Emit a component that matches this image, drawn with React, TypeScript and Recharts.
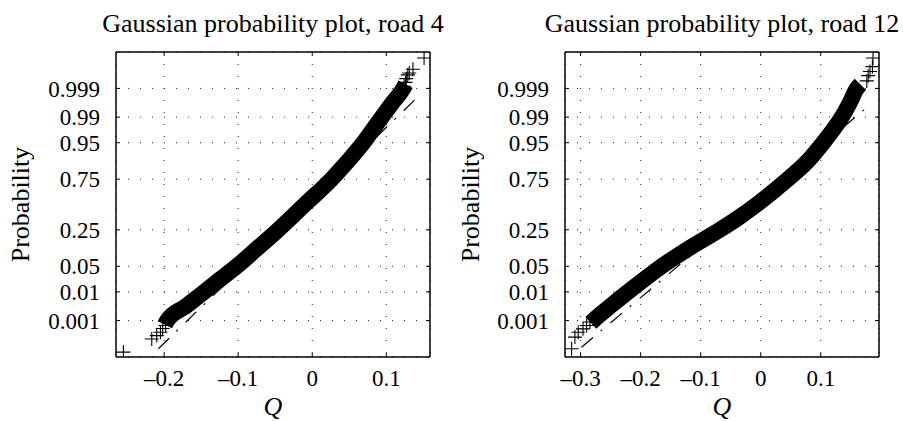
import { CartesianGrid, ComposedChart, Line, Scatter, XAxis, YAxis } from "recharts";

// probability axis: values are stored as normal quantiles (z), labelled as probabilities
const probLabels = ["0.001", "0.01", "0.05", "0.25", "0.75", "0.95", "0.99", "0.999"];
const probZ = [-3.09, -2.326, -1.645, -0.674, 0.674, 1.645, 2.326, 3.09];

const road4Ticks = [-0.2, -0.1, 0, 0.1];
const road12Ticks = [-0.3, -0.2, -0.1, 0, 0.1];

// dense band of samples, read along its centre
const road4Band = [
  { q: -0.199, z: -3.2 },
  { q: -0.196, z: -3.09 },
  { q: -0.17, z: -2.7 },
  { q: -0.146, z: -2.33 },
  { q: -0.125, z: -2.0 },
  { q: -0.102, z: -1.645 },
  { q: -0.075, z: -1.18 },
  { q: -0.046, z: -0.674 },
  { q: -0.01, z: 0 },
  { q: 0.026, z: 0.674 },
  { q: 0.048, z: 1.15 },
  { q: 0.069, z: 1.645 },
  { q: 0.082, z: 2.0 },
  { q: 0.094, z: 2.326 },
  { q: 0.108, z: 2.7 },
  { q: 0.123, z: 3.09 },
  { q: 0.126, z: 3.2 },
];

// isolated samples in the tails
const road4Tails = [
  { q: -0.255, z: -3.93 },
  { q: -0.2167, z: -3.58 },
  { q: -0.21, z: -3.49 },
  { q: -0.205, z: -3.4 },
  { q: -0.202, z: -3.3 },
  { q: -0.198, z: -3.22 },
  { q: 0.124, z: 3.15 },
  { q: 0.126, z: 3.25 },
  { q: 0.127, z: 3.35 },
  { q: 0.129, z: 3.45 },
  { q: 0.131, z: 3.5 },
  { q: 0.136, z: 3.6 },
  { q: 0.151, z: 3.9 },
];

const road4Fit = [
  { q: -0.2078, z: -3.84 },
  { q: 0.1386, z: 2.79 },
];

const road12Band = [
  { q: -0.283, z: -3.15 },
  { q: -0.279, z: -3.09 },
  { q: -0.25, z: -2.7 },
  { q: -0.221, z: -2.326 },
  { q: -0.193, z: -1.98 },
  { q: -0.165, z: -1.645 },
  { q: -0.118, z: -1.15 },
  { q: -0.068, z: -0.674 },
  { q: -0.035, z: -0.33 },
  { q: -0.0067, z: 0 },
  { q: 0.045, z: 0.674 },
  { q: 0.078, z: 1.15 },
  { q: 0.104, z: 1.645 },
  { q: 0.121, z: 2.0 },
  { q: 0.135, z: 2.326 },
  { q: 0.148, z: 2.7 },
  { q: 0.16, z: 3.09 },
  { q: 0.166, z: 3.2 },
];

const road12Tails = [
  { q: -0.315, z: -3.84 },
  { q: -0.3095, z: -3.53 },
  { q: -0.304, z: -3.4 },
  { q: -0.296, z: -3.31 },
  { q: -0.29, z: -3.22 },
  { q: -0.2845, z: -3.13 },
  { q: 0.1767, z: 3.29 },
  { q: 0.179, z: 3.43 },
  { q: 0.182, z: 3.54 },
  { q: 0.186, z: 3.67 },
  { q: 0.187, z: 3.9 },
];

const road12Fit = [
  { q: -0.2985, z: -3.8 },
  { q: 0.175, z: 2.56 },
];

const FONT = "'Liberation Serif', 'Times New Roman', serif";

const fmtQ = (v: number) => (v < 0 ? "\u2013" + Math.abs(v) : String(v));
const fmtP = (v: number) => probLabels[probZ.indexOf(v)] ?? "";

function Plus(props: { cx?: number; cy?: number }) {
  const { cx, cy } = props;
  if (cx == null || cy == null) return null;
  return (
    <path
      d={`M${cx - 7},${cy}h14M${cx},${cy - 7}v14`}
      stroke="#000"
      strokeWidth={1.1}
      fill="none"
    />
  );
}

interface PanelProps {
  title: string;
  band: { q: number; z: number }[];
  tails: { q: number; z: number }[];
  fit: { q: number; z: number }[];
  xDomain: [number, number];
  xTicks: number[];
  width: number;
  yAxisWidth: number;
  rightMargin: number;
}

function Panel({ title, band, tails, fit, xDomain, xTicks, width, yAxisWidth, rightMargin }: PanelProps) {
  const axisLine = { stroke: "#000", strokeWidth: 1.5 };
  const tickLine = { stroke: "#000", strokeWidth: 1 };
  return (
    <ComposedChart
      width={width}
      height={421}
      margin={{ top: 51, right: rightMargin - 1, bottom: 4, left: 0 }}
      style={{ fontFamily: FONT }}
    >
      <CartesianGrid stroke="#222" strokeDasharray="1 11" strokeWidth={1} />
      <XAxis
        type="number"
        dataKey="q"
        domain={xDomain}
        allowDataOverflow
        ticks={xTicks}
        interval={0}
        tickFormatter={fmtQ}
        height={60}
        tickSize={-4}
        tickMargin={17}
        axisLine={axisLine}
        tickLine={tickLine}
        tick={{ fill: "#000", fontSize: 23, fontFamily: FONT }}
        label={{
          content: (p: any) => (
            <text
              x={p.viewBox.x + p.viewBox.width / 2}
              y={p.viewBox.y + 58}
              textAnchor="middle"
              fontSize={26}
              fontStyle="italic"
              fontFamily={FONT}
              fill="#000"
            >
              Q
            </text>
          ),
        }}
      />
      <XAxis
        xAxisId="top"
        orientation="top"
        type="number"
        dataKey="q"
        domain={xDomain}
        allowDataOverflow
        ticks={xTicks}
        interval={0}
        height={1}
        tickSize={-4}
        axisLine={axisLine}
        tickLine={tickLine}
        tick={() => <g />}
        label={{
          content: (p: any) => (
            <text
              x={p.viewBox.x + p.viewBox.width / 2}
              y={p.viewBox.y - 19}
              textAnchor="middle"
              fontSize={26}
              fontFamily={FONT}
              fill="#000"
            >
              {title}
            </text>
          ),
        }}
      />
      <YAxis
        type="number"
        dataKey="z"
        domain={[-4.06, 4.06]}
        allowDataOverflow
        ticks={probZ}
        interval={0}
        tickFormatter={fmtP}
        width={yAxisWidth}
        tickSize={-4}
        tickMargin={20}
        axisLine={axisLine}
        tickLine={tickLine}
        tick={{ fill: "#000", fontSize: 23, fontFamily: FONT }}
        label={{
          content: (p: any) => (
            <text
              transform={`translate(${p.viewBox.x + 29},${p.viewBox.y + p.viewBox.height / 2}) rotate(-90)`}
              textAnchor="middle"
              fontSize={26}
              fontFamily={FONT}
              fill="#000"
            >
              Probability
            </text>
          ),
        }}
      />
      <YAxis
        yAxisId="r"
        orientation="right"
        type="number"
        dataKey="z"
        domain={[-4.06, 4.06]}
        allowDataOverflow
        ticks={probZ}
        interval={0}
        width={1}
        tickSize={-4}
        axisLine={axisLine}
        tickLine={tickLine}
        tick={() => <g />}
      />
      <Line
        data={fit}
        dataKey="z"
        type="linear"
        stroke="#000"
        strokeWidth={1.2}
        strokeDasharray="15 10 2 11"
        dot={false}
        activeDot={false}
        isAnimationActive={false}
      />
      <Line
        data={band}
        dataKey="z"
        type="monotone"
        stroke="#000"
        strokeWidth={16}
        dot={false}
        activeDot={false}
        isAnimationActive={false}
      />
      <Scatter data={tails} dataKey="z" shape={(p: any) => <Plus cx={p.cx} cy={p.cy} />} isAnimationActive={false} />
      {/* hidden copy so the mirrored top/right axes (box frame) are drawn */}
      <Line
        data={fit}
        dataKey="z"
        xAxisId="top"
        yAxisId="r"
        stroke="none"
        dot={false}
        activeDot={false}
        isAnimationActive={false}
      />
    </ComposedChart>
  );
}

export default function App() {
  return (
    <div style={{ position: "absolute", left: 0, top: 0, width: 903, height: 421, background: "#fff" }}>
      <div style={{ position: "absolute", left: 0, top: 0 }}>
        <Panel
          title="Gaussian probability plot, road 4"
          band={road4Band}
          tails={road4Tails}
          fit={road4Fit}
          xDomain={[-0.265, 0.159]}
          xTicks={road4Ticks}
          width={450}
          yAxisWidth={116}
          rightMargin={20}
        />
      </div>
      <div style={{ position: "absolute", left: 450, top: 0 }}>
        <Panel
          title="Gaussian probability plot, road 12"
          band={road12Band}
          tails={road12Tails}
          fit={road12Fit}
          xDomain={[-0.326, 0.197]}
          xTicks={road12Ticks}
          width={453}
          yAxisWidth={115}
          rightMargin={24}
        />
      </div>
    </div>
  );
}
